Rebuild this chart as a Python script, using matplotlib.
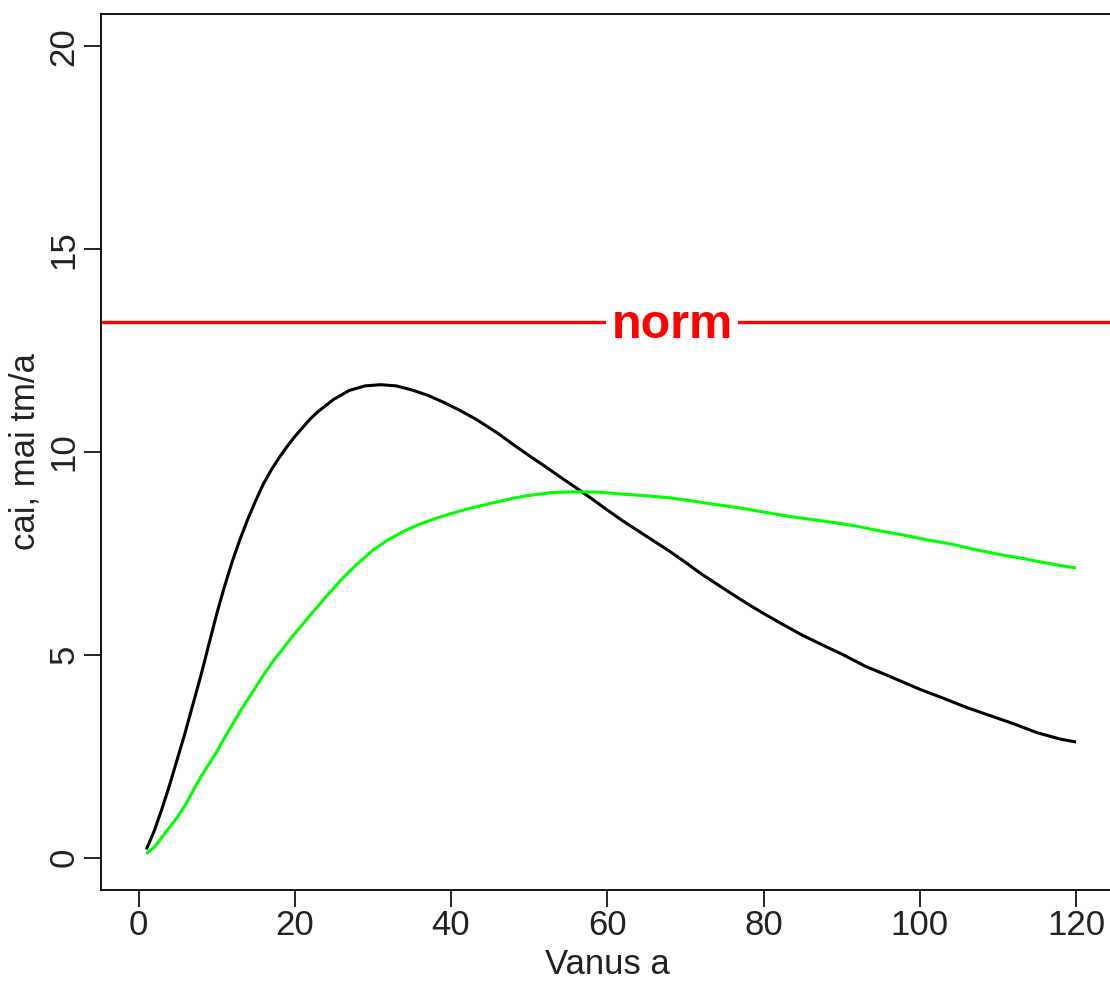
import matplotlib
matplotlib.use("Agg")
import matplotlib.pyplot as plt

# ---- data ----
age_black = [1, 2, 3, 4, 5, 6, 7, 8, 9, 10, 11, 12, 13, 14, 15, 16, 17, 18, 19, 20,
             21, 22, 23, 25, 27, 29, 31, 33, 35, 37, 39, 41, 43, 44, 46, 48, 50, 52, 54,
             56, 58, 60, 62, 64, 66, 68, 70, 72, 75, 78, 80, 82, 85, 88, 90, 93, 96,
             100, 103, 106, 109, 112, 115, 118, 120]
cai_black = [0.2, 0.65, 1.2, 1.8, 2.45, 3.1, 3.8, 4.5, 5.25, 6.0, 6.68, 7.3, 7.85, 8.35,
             8.8, 9.22, 9.56, 9.86, 10.13, 10.38, 10.6, 10.82, 11.0, 11.3, 11.52, 11.63,
             11.66, 11.63, 11.53, 11.4, 11.23, 11.04, 10.83, 10.71, 10.46, 10.18, 9.91, 9.65,
             9.38, 9.12, 8.85, 8.57, 8.3, 8.05, 7.8, 7.55, 7.28, 7.0, 6.62, 6.25, 6.02,
             5.8, 5.48, 5.2, 5.02, 4.72, 4.48, 4.15, 3.93, 3.7, 3.5, 3.3, 3.08, 2.92, 2.85]

age_green = [1, 2, 3, 4, 5, 6, 7, 8, 9, 10, 11, 12, 13, 14, 15, 16, 17, 18, 19, 20,
             22, 24, 26, 28, 30, 32, 34, 36, 38, 40, 42, 45, 48, 50, 53, 56, 59, 62,
             65, 68, 71, 74, 77, 80, 83, 86, 89, 92, 95, 98, 101, 104, 107, 110, 113,
             116, 118, 120]
cai_green = [0.1, 0.25, 0.5, 0.75, 1.0, 1.3, 1.65, 2.0, 2.3, 2.6, 2.95, 3.27, 3.6, 3.9,
             4.2, 4.5, 4.78, 5.03, 5.28, 5.52, 5.98, 6.43, 6.86, 7.24, 7.58, 7.84, 8.05,
             8.22, 8.36, 8.48, 8.59, 8.73, 8.86, 8.93, 9.0, 9.02, 9.01, 8.96, 8.92, 8.87,
             8.79, 8.7, 8.62, 8.52, 8.42, 8.34, 8.26, 8.17, 8.05, 7.95, 7.83, 7.73, 7.6,
             7.48, 7.38, 7.27, 7.2, 7.14]

norm_value = 13.2
norm_label = "norm"
x_ticks = [0, 20, 40, 60, 80, 100, 120]
y_ticks = [0, 5, 10, 15, 20]
x_label = "Vanus a"
y_label = "cai, mai tm/a"

plt.rcParams["font.family"] = ["Liberation Sans", "DejaVu Sans"]

W, H = 1110, 986
fig = plt.figure(figsize=(W / 100, H / 100), dpi=100)
left, right, top, bottom = 101, 1113.5, 14, 890
ax = fig.add_axes([left / W, (H - bottom) / H, (right - left) / W, (bottom - top) / H])

ax.plot(age_black, cai_black, color="black", lw=2.2, solid_capstyle="butt")
ax.plot(age_green, cai_green, color="#00ff00", lw=2.2, solid_capstyle="butt")
ax.axhline(norm_value, color="#ff0000", lw=2.4)
ax.text(68.3, norm_value + 0.05, norm_label, color="#ff0000", fontsize=35, fontweight="bold",
        ha="center", va="center_baseline",
        bbox=dict(facecolor="white", edgecolor="none", pad=4))

ax.set_xlim(-4.8, 124.8)
ax.set_ylim(-0.8, 20.8)
ax.set_xticks(x_ticks)
ax.set_yticks(y_ticks)
ax.set_xticklabels([str(v) for v in x_ticks])
ax.set_yticklabels([str(v) for v in y_ticks], rotation=90, va="center")

for s in ax.spines.values():
    s.set_linewidth(1.3)
ax.tick_params(axis="both", direction="out", length=12, width=1.2, labelsize=25,
               colors="#000000", labelcolor="#222222")
ax.tick_params(axis="x", pad=2)
ax.tick_params(axis="y", pad=3)
ax.set_xlabel(x_label, fontsize=25, color="#222222", labelpad=4)
ax.set_ylabel(y_label, fontsize=25, color="#222222", labelpad=4)

fig.savefig("out.png", dpi=100)
